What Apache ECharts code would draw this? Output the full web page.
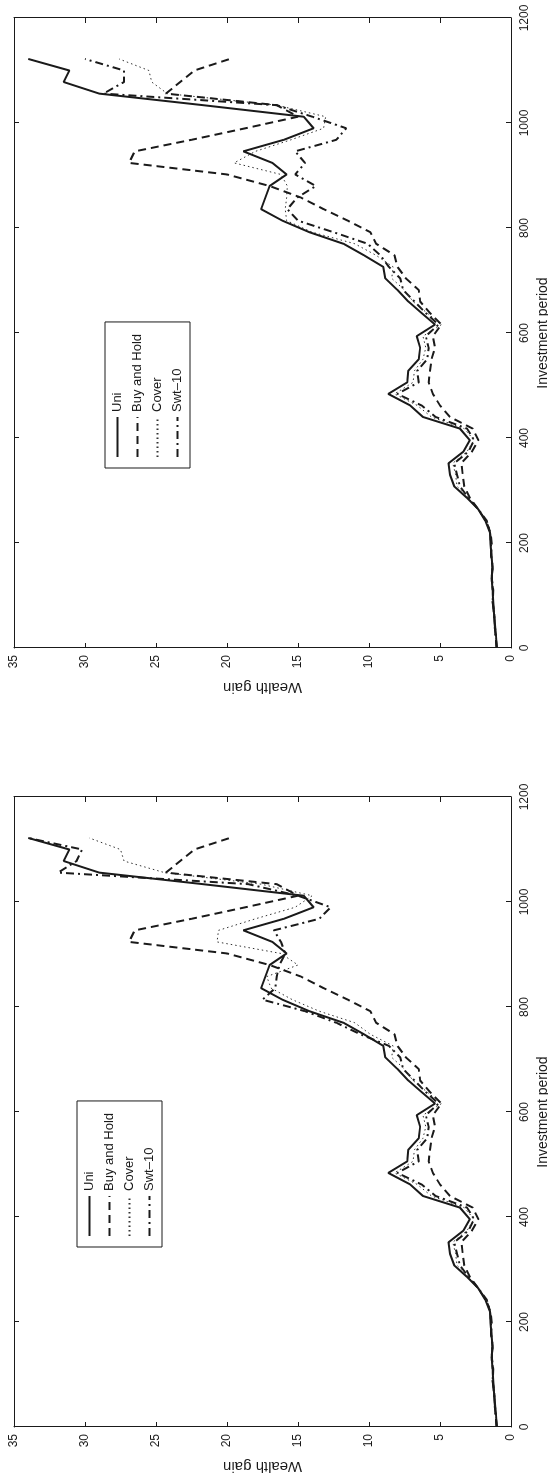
<!DOCTYPE html>
<html>
<head>
<meta charset="utf-8">
<script src="https://cdn.jsdelivr.net/npm/echarts@6/dist/echarts.min.js"></script>
<style>
  html, body { margin: 0; padding: 0; background: #fff; }
  body { width: 548px; height: 1475px; overflow: hidden; position: relative; }
  /* the figure is printed turned a quarter turn, so each plot is drawn upright and then rotated */
  .panel { position: absolute; left: 0; width: 760px; height: 548px;
           transform-origin: 0 0; transform: translate(0, 760px) rotate(-90deg); }
</style>
</head>
<body>
<div id="top" class="panel" style="top:0px"></div>
<div id="bottom" class="panel" style="top:779px"></div>
<script>
var periods = [0, 22, 44, 66, 88, 110, 132, 154, 176, 198, 220, 242, 264, 286, 308, 330, 352, 374, 396, 418,
  440, 462, 484, 506, 528, 550, 572, 594, 616, 638, 660, 682, 704, 726, 748, 770, 792, 814, 836, 858,
  880, 902, 924, 946, 968, 990, 1012, 1034, 1056, 1078, 1100, 1122];

var uni = [1.00, 1.05, 1.12, 1.20, 1.25, 1.30, 1.36, 1.30, 1.38, 1.45, 1.48, 1.80, 2.30, 3.10, 4.00, 4.30, 4.40, 3.36, 2.90, 3.60,
  6.20, 7.10, 8.65, 7.30, 7.23, 6.50, 6.40, 6.64, 5.35, 6.30, 7.23, 8.00, 8.85, 9.00, 10.35, 11.80, 14.20, 16.10, 17.60, 17.30,
  17.00, 15.80, 16.80, 18.85, 16.00, 13.90, 14.60, 21.70, 29.00, 31.50, 31.10, 34.00];

var buyHold = [1.00, 1.08, 1.15, 1.18, 1.30, 1.25, 1.35, 1.30, 1.40, 1.35, 1.45, 1.75, 2.30, 2.90, 3.30, 3.40, 3.50, 2.75, 2.30, 2.70,
  4.30, 5.00, 5.50, 5.80, 5.70, 5.60, 5.35, 5.50, 4.90, 5.70, 6.40, 6.50, 7.40, 8.00, 8.20, 9.50, 9.90, 11.50, 13.20, 14.80,
  17.00, 20.00, 26.90, 26.50, 22.50, 18.70, 15.00, 16.50, 24.30, 23.30, 22.30, 19.80];

// upper plot
var coverA = [1.00, 1.06, 1.12, 1.20, 1.25, 1.28, 1.35, 1.32, 1.38, 1.42, 1.50, 1.75, 2.35, 3.00, 3.80, 3.90, 4.10, 3.10, 2.60, 3.30,
  5.60, 6.60, 8.20, 6.90, 6.80, 6.20, 6.00, 6.20, 4.90, 5.90, 6.90, 7.50, 8.40, 8.30, 9.50, 11.00, 14.00, 15.80, 15.90, 15.80,
  15.75, 16.20, 19.50, 18.00, 15.50, 13.20, 13.05, 16.50, 24.20, 25.30, 25.50, 27.60];
var swtA = [1.00, 1.07, 1.14, 1.20, 1.28, 1.27, 1.36, 1.30, 1.40, 1.40, 1.48, 1.70, 2.30, 3.00, 3.60, 3.80, 4.00, 3.00, 2.60, 3.10,
  5.30, 6.30, 8.00, 6.50, 6.60, 5.90, 5.80, 6.00, 5.10, 6.00, 6.80, 7.60, 7.80, 8.60, 9.20, 10.10, 12.50, 15.00, 15.75, 15.05,
  13.75, 15.20, 14.50, 15.20, 12.30, 11.60, 14.00, 16.50, 28.70, 27.25, 27.25, 30.00];

// lower plot
var coverB = [1.00, 1.06, 1.12, 1.20, 1.25, 1.28, 1.35, 1.32, 1.38, 1.42, 1.50, 1.75, 2.35, 3.00, 3.80, 3.90, 4.10, 3.10, 2.60, 3.30,
  5.60, 6.60, 8.20, 6.90, 6.80, 6.20, 6.00, 6.20, 4.90, 5.90, 6.90, 7.50, 8.40, 8.30, 9.90, 11.00, 13.50, 15.40, 16.90, 17.20,
  15.00, 16.20, 20.70, 20.60, 18.00, 15.20, 14.00, 17.60, 24.40, 27.25, 27.50, 29.70];
var swtB = [1.00, 1.07, 1.14, 1.20, 1.28, 1.27, 1.36, 1.30, 1.40, 1.40, 1.48, 1.70, 2.30, 3.00, 3.60, 3.80, 4.00, 3.00, 2.60, 3.10,
  5.30, 6.30, 8.00, 6.50, 6.60, 5.90, 5.80, 6.00, 5.10, 6.00, 6.80, 7.60, 7.80, 8.60, 10.60, 12.30, 14.50, 17.50, 16.60, 16.50,
  16.30, 15.90, 16.20, 16.70, 13.50, 12.70, 15.00, 18.50, 31.90, 30.60, 30.20, 34.00];

var names = ['Uni', 'Buy and Hold', 'Cover', 'Swt\u201310'];
var periodTicks = [0, 200, 400, 600, 800, 1000, 1200];
var wealthTicks = [0, 5, 10, 15, 20, 25, 30, 35];

var font = 'Liberation Sans';
var ink = '#1a1a1a';

function pairs(vals) {
  var out = [];
  for (var i = 0; i < periods.length; i++) out.push([periods[i], vals[i]]);
  return out;
}

function plain(v) { return String(v); }

function axisX(show) {
  return {
    type: 'value', min: periodTicks[0], max: periodTicks[periodTicks.length - 1], interval: 200,
    position: show ? 'bottom' : 'top',
    name: show ? 'Investment period' : '', nameLocation: 'middle', nameGap: 19,
    nameTextStyle: { fontFamily: font, fontSize: 14, color: ink },
    axisLine: { show: true, onZero: false, lineStyle: { color: ink, width: 1 } },
    axisTick: { show: true, inside: true, length: 5, lineStyle: { color: ink } },
    axisLabel: { show: show, margin: 8, fontFamily: font, fontSize: 12, color: ink, formatter: plain },
    splitLine: { show: false }
  };
}

function axisY(show) {
  return {
    type: 'value', min: wealthTicks[0], max: wealthTicks[wealthTicks.length - 1], interval: 5,
    position: show ? 'left' : 'right',
    name: show ? 'Wealth gain' : '', nameLocation: 'middle', nameGap: 29,
    nameTextStyle: { fontFamily: font, fontSize: 15, color: ink },
    axisLine: { show: true, onZero: false, lineStyle: { color: ink, width: 1 } },
    axisTick: { show: true, inside: true, length: 5, lineStyle: { color: ink } },
    axisLabel: { show: show, margin: 7, fontFamily: font, fontSize: 12, color: ink, formatter: plain },
    splitLine: { show: false }
  };
}

function makeChart(id, cover, swt, legendTop) {
  var chart = echarts.init(document.getElementById(id));
  var styles = [
    { color: ink, width: 2, type: 'solid' },
    { color: ink, width: 2, type: [8, 5] },
    { color: '#333', width: 1, type: [1.5, 3] },
    { color: ink, width: 2, type: [8, 4, 2, 4] }
  ];
  var sets = [uni, buyHold, cover, swt];
  var series = [];
  for (var i = 0; i < sets.length; i++) {
    series.push({
      name: names[i], type: 'line', data: pairs(sets[i]),
      symbol: 'none', showSymbol: false, lineStyle: styles[i], itemStyle: { color: ink },
      xAxisIndex: 0, yAxisIndex: 0, z: 4 - i
    });
  }
  chart.setOption({
    animation: false,
    backgroundColor: '#fff',
    grid: { left: 112, right: 18, top: 14, bottom: 37, outerBoundsMode: 'none' },
    legend: {
      data: names, orient: 'vertical', left: 292, top: legendTop,
      padding: [6, 12, 6, 10], itemWidth: 40, itemHeight: 12, itemGap: 7,
      borderColor: ink, borderWidth: 1, backgroundColor: '#fff',
      itemStyle: { opacity: 0 },
      textStyle: { fontFamily: font, fontSize: 13, color: ink },
      selectedMode: false
    },
    xAxis: [axisX(true), axisX(false)],
    yAxis: [axisY(true), axisY(false)],
    series: series
  });
  return chart;
}

makeChart('top', coverA, swtA, 105);
makeChart('bottom', coverB, swtB, 77);
</script>
</body>
</html>
